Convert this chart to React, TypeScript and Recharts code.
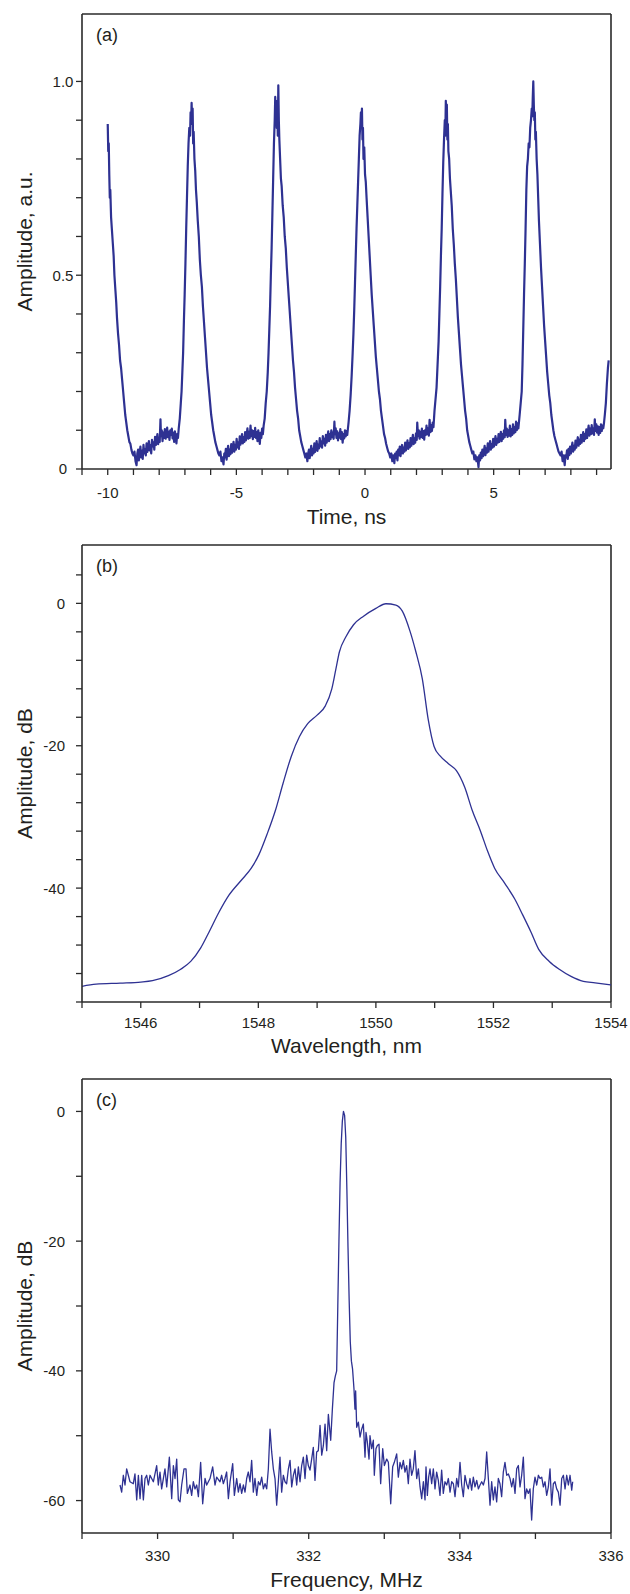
import React from 'react';
import { LineChart, Line, XAxis, YAxis, ReferenceLine } from 'recharts';

const FONT = '"Liberation Sans", Arial, Helvetica, sans-serif';
const INK = '#231f20';
const FRAME = '#2a2a2a';
const TRACE = '#2e3192';

// ---------- (a) pulse train: [time ns, amplitude a.u.] ----------
const pulseTrace: [number, number][] = [
  [-10.0,0.89],[-9.98,0.82],[-9.96,0.84],[-9.94,0.76],[-9.92,0.70],[-9.9,0.72],[-9.87,0.65],[-9.84,0.62],[-9.8,0.58],[-9.77,0.55],[-9.74,0.50],[-9.7,0.46],[-9.67,0.43],[-9.64,0.39],[-9.6,0.35],[-9.56,0.32],[-9.52,0.28],[-9.48,0.26],[-9.44,0.23],[-9.4,0.20],[-9.36,0.17],[-9.32,0.14],[-9.28,0.12],[-9.24,0.10],[-9.2,0.085],[-9.16,0.07],[-9.12,0.065],[-9.08,0.05],[-9.04,0.04],[-9.0,0.035],[-8.96,0.045],[-8.92,0.02],[-8.88,0.01],[-8.85,0.04],
  [-8.82,0.05],[-8.79,0.022],[-8.76,0.041],[-8.73,0.058],[-8.7,0.03],[-8.67,0.047],[-8.64,0.026],[-8.61,0.062],[-8.58,0.04],[-8.55,0.051],[-8.52,0.035],[-8.49,0.066],[-8.46,0.044],[-8.43,0.057],[-8.4,0.072],[-8.37,0.048],[-8.34,0.061],[-8.31,0.04],[-8.28,0.075],[-8.25,0.058],[-8.22,0.069],[-8.19,0.05],[-8.16,0.083],[-8.13,0.062],[-8.1,0.074],[-8.07,0.09],[-8.04,0.064],[-8.01,0.081],[-7.98,0.07],[-7.95,0.128],[-7.93,0.085],[-7.9,0.1],[-7.87,0.072],[-7.84,0.094],[-7.81,0.08],[-7.78,0.103],[-7.75,0.078],[-7.72,0.09],[-7.69,0.107],[-7.66,0.082],[-7.63,0.096],[-7.6,0.075],[-7.57,0.1],[-7.54,0.088],[-7.51,0.104],[-7.48,0.079],[-7.45,0.093],[-7.42,0.07],[-7.39,0.097],[-7.36,0.085],[-7.33,0.066],[-7.3,0.09],[-7.27,0.08],[-7.24,0.105],
  [-7.2,0.13],[-7.16,0.17],[-7.13,0.2],[-7.1,0.25],[-7.07,0.3],[-7.04,0.38],[-7.01,0.45],[-6.98,0.53],[-6.95,0.62],[-6.92,0.7],[-6.89,0.78],[-6.86,0.84],[-6.83,0.88],[-6.8,0.86],[-6.78,0.92],[-6.76,0.89],[-6.74,0.945],[-6.72,0.9],[-6.7,0.93],[-6.68,0.84],[-6.66,0.87],[-6.63,0.8],[-6.6,0.77],[-6.57,0.72],[-6.54,0.69],[-6.5,0.64],[-6.46,0.6],[-6.42,0.54],[-6.38,0.5],[-6.34,0.47],[-6.3,0.42],[-6.26,0.38],[-6.22,0.34],[-6.18,0.3],[-6.14,0.26],[-6.1,0.23],[-6.06,0.2],[-6.02,0.17],[-5.98,0.14],[-5.94,0.12],[-5.9,0.1],[-5.86,0.085],[-5.82,0.07],[-5.78,0.06],[-5.74,0.05],[-5.7,0.04],[-5.66,0.035],[-5.62,0.045],[-5.58,0.02],[-5.54,0.03],[-5.5,0.012],[-5.47,0.04],
  [-5.44,0.03],[-5.41,0.052],[-5.38,0.024],[-5.35,0.045],[-5.32,0.06],[-5.29,0.033],[-5.26,0.05],[-5.23,0.038],[-5.2,0.064],[-5.17,0.042],[-5.14,0.055],[-5.11,0.07],[-5.08,0.045],[-5.05,0.062],[-5.02,0.05],[-4.99,0.078],[-4.96,0.056],[-4.93,0.069],[-4.9,0.052],[-4.87,0.084],[-4.84,0.063],[-4.81,0.075],[-4.78,0.09],[-4.75,0.066],[-4.72,0.082],[-4.69,0.07],[-4.66,0.095],[-4.63,0.074],[-4.6,0.088],[-4.57,0.105],[-4.54,0.078],[-4.51,0.096],[-4.48,0.08],[-4.45,0.112],[-4.42,0.085],[-4.39,0.1],[-4.36,0.077],[-4.33,0.098],[-4.3,0.083],[-4.27,0.106],[-4.24,0.08],[-4.21,0.095],[-4.18,0.072],[-4.15,0.1],[-4.12,0.085],[-4.09,0.065],[-4.06,0.093],[-4.03,0.08],[-4.0,0.104],[-3.97,0.09],[-3.94,0.112],
  [-3.9,0.13],[-3.86,0.17],[-3.82,0.2],[-3.78,0.25],[-3.75,0.3],[-3.72,0.36],[-3.69,0.42],[-3.66,0.5],[-3.63,0.57],[-3.6,0.66],[-3.57,0.75],[-3.54,0.84],[-3.51,0.9],[-3.49,0.96],[-3.47,0.91],[-3.45,0.95],[-3.43,0.88],[-3.41,0.93],[-3.39,0.86],[-3.37,0.99],[-3.35,0.9],[-3.33,0.85],[-3.3,0.8],[-3.27,0.75],[-3.24,0.73],[-3.2,0.68],[-3.16,0.65],[-3.12,0.6],[-3.08,0.57],[-3.04,0.52],[-3.0,0.48],[-2.96,0.44],[-2.92,0.4],[-2.88,0.36],[-2.84,0.32],[-2.8,0.28],[-2.76,0.25],[-2.72,0.21],[-2.68,0.18],[-2.64,0.15],[-2.6,0.13],[-2.56,0.1],[-2.52,0.085],[-2.48,0.07],[-2.44,0.06],[-2.4,0.05],[-2.36,0.04],[-2.32,0.03],[-2.28,0.04],[-2.24,0.02],[-2.21,0.04],
  [-2.18,0.05],[-2.15,0.028],[-2.12,0.045],[-2.09,0.06],[-2.06,0.035],[-2.03,0.052],[-2.0,0.04],[-1.97,0.066],[-1.94,0.044],[-1.91,0.058],[-1.88,0.072],[-1.85,0.047],[-1.82,0.063],[-1.79,0.053],[-1.76,0.08],[-1.73,0.058],[-1.7,0.071],[-1.67,0.055],[-1.64,0.085],[-1.61,0.066],[-1.58,0.078],[-1.55,0.06],[-1.52,0.088],[-1.49,0.068],[-1.46,0.083],[-1.43,0.097],[-1.4,0.072],[-1.37,0.09],[-1.34,0.077],[-1.31,0.1],[-1.28,0.082],[-1.25,0.094],[-1.22,0.078],[-1.19,0.122],[-1.17,0.09],[-1.14,0.105],[-1.11,0.08],[-1.08,0.097],[-1.05,0.074],[-1.02,0.092],[-0.99,0.081],[-0.96,0.103],[-0.93,0.077],[-0.9,0.095],[-0.87,0.068],[-0.84,0.09],[-0.81,0.079],[-0.78,0.1],[-0.75,0.084],[-0.72,0.098],[-0.69,0.088],
  [-0.64,0.12],[-0.6,0.15],[-0.56,0.19],[-0.52,0.24],[-0.48,0.3],[-0.45,0.35],[-0.42,0.41],[-0.39,0.48],[-0.36,0.55],[-0.33,0.62],[-0.3,0.68],[-0.27,0.74],[-0.24,0.8],[-0.21,0.86],[-0.18,0.89],[-0.16,0.92],[-0.14,0.88],[-0.12,0.93],[-0.1,0.85],[-0.08,0.88],[-0.06,0.8],[-0.03,0.83],[0.0,0.76],[0.03,0.74],[0.06,0.7],[0.1,0.65],[0.14,0.6],[0.18,0.55],[0.22,0.5],[0.26,0.45],[0.3,0.41],[0.34,0.37],[0.38,0.33],[0.42,0.29],[0.46,0.26],[0.5,0.23],[0.54,0.2],[0.58,0.18],[0.62,0.15],[0.66,0.13],[0.7,0.11],[0.74,0.09],[0.78,0.08],[0.82,0.065],[0.86,0.055],[0.9,0.045],[0.94,0.04],[0.98,0.03],[1.02,0.04],[1.06,0.02],[1.1,0.035],[1.14,0.015],[1.17,0.04],
  [1.2,0.028],[1.23,0.045],[1.26,0.022],[1.29,0.05],[1.32,0.036],[1.35,0.058],[1.38,0.033],[1.41,0.049],[1.44,0.062],[1.47,0.04],[1.5,0.055],[1.53,0.045],[1.56,0.068],[1.59,0.048],[1.62,0.06],[1.65,0.074],[1.68,0.052],[1.71,0.066],[1.74,0.056],[1.77,0.08],[1.8,0.06],[1.83,0.073],[1.86,0.088],[1.89,0.064],[1.92,0.079],[1.95,0.068],[1.98,0.092],[2.01,0.075],[2.03,0.12],[2.06,0.085],[2.09,0.1],[2.12,0.078],[2.15,0.096],[2.18,0.083],[2.21,0.104],[2.24,0.08],[2.27,0.098],[2.3,0.076],[2.33,0.1],[2.36,0.088],[2.39,0.112],[2.42,0.09],[2.45,0.105],[2.48,0.086],[2.51,0.127],[2.54,0.095],[2.57,0.113],[2.6,0.098],[2.63,0.12],[2.66,0.108],
  [2.7,0.15],[2.74,0.18],[2.78,0.21],[2.82,0.27],[2.86,0.33],[2.89,0.4],[2.92,0.47],[2.95,0.55],[2.98,0.62],[3.01,0.71],[3.04,0.79],[3.07,0.85],[3.1,0.9],[3.12,0.86],[3.14,0.95],[3.16,0.9],[3.18,0.94],[3.2,0.85],[3.22,0.89],[3.24,0.82],[3.27,0.8],[3.3,0.75],[3.33,0.72],[3.37,0.68],[3.41,0.62],[3.45,0.58],[3.49,0.53],[3.53,0.49],[3.57,0.44],[3.61,0.39],[3.65,0.35],[3.69,0.31],[3.73,0.27],[3.77,0.24],[3.81,0.21],[3.85,0.18],[3.89,0.15],[3.93,0.13],[3.97,0.1],[4.01,0.085],[4.05,0.07],[4.09,0.06],[4.13,0.05],[4.17,0.04],[4.21,0.045],[4.25,0.025],[4.29,0.035],[4.33,0.02],[4.37,0.03],[4.41,0.005],[4.44,0.035],
  [4.47,0.022],[4.5,0.042],[4.53,0.028],[4.56,0.05],[4.59,0.033],[4.62,0.046],[4.65,0.06],[4.68,0.036],[4.71,0.053],[4.74,0.042],[4.77,0.066],[4.8,0.045],[4.83,0.058],[4.86,0.072],[4.89,0.05],[4.92,0.064],[4.95,0.055],[4.98,0.078],[5.01,0.058],[5.04,0.07],[5.07,0.085],[5.1,0.062],[5.13,0.078],[5.16,0.068],[5.19,0.09],[5.22,0.07],[5.25,0.084],[5.28,0.096],[5.31,0.072],[5.34,0.09],[5.37,0.078],[5.4,0.1],[5.43,0.082],[5.45,0.127],[5.48,0.088],[5.51,0.104],[5.54,0.083],[5.57,0.1],[5.6,0.086],[5.63,0.112],[5.66,0.084],[5.69,0.102],[5.72,0.088],[5.75,0.115],[5.78,0.092],[5.81,0.108],[5.84,0.095],[5.87,0.122],[5.9,0.1],[5.93,0.118],[5.96,0.105],
  [6.01,0.14],[6.05,0.17],[6.09,0.2],[6.12,0.27],[6.15,0.36],[6.18,0.45],[6.21,0.53],[6.24,0.62],[6.27,0.72],[6.3,0.78],[6.33,0.8],[6.36,0.84],[6.39,0.83],[6.42,0.88],[6.45,0.9],[6.48,0.93],[6.5,0.91],[6.52,0.96],[6.54,1.0],[6.56,0.94],[6.58,0.9],[6.6,0.92],[6.62,0.85],[6.64,0.87],[6.67,0.8],[6.7,0.76],[6.73,0.7],[6.76,0.64],[6.8,0.58],[6.84,0.52],[6.88,0.47],[6.92,0.42],[6.96,0.37],[7.0,0.33],[7.04,0.29],[7.08,0.25],[7.12,0.22],[7.16,0.19],[7.2,0.17],[7.24,0.14],[7.28,0.12],[7.32,0.1],[7.36,0.085],[7.4,0.075],[7.44,0.065],[7.48,0.055],[7.52,0.045],[7.56,0.04],[7.6,0.035],[7.64,0.045],[7.68,0.02],[7.72,0.035],[7.76,0.01],[7.79,0.035],
  [7.82,0.03],[7.85,0.048],[7.88,0.026],[7.91,0.052],[7.94,0.036],[7.97,0.058],[8.0,0.04],[8.03,0.055],[8.06,0.068],[8.09,0.045],[8.12,0.06],[8.15,0.05],[8.18,0.073],[8.21,0.055],[8.24,0.068],[8.27,0.082],[8.3,0.06],[8.33,0.076],[8.36,0.065],[8.39,0.088],[8.42,0.068],[8.45,0.08],[8.48,0.095],[8.51,0.072],[8.54,0.09],[8.57,0.078],[8.6,0.102],[8.63,0.08],[8.66,0.095],[8.69,0.112],[8.72,0.086],[8.75,0.104],[8.78,0.09],[8.81,0.113],[8.84,0.092],[8.87,0.105],[8.9,0.088],[8.93,0.128],[8.96,0.098],[8.99,0.115],[9.02,0.094],[9.05,0.11],[9.08,0.088],[9.11,0.108],[9.14,0.093],[9.17,0.115],[9.2,0.098],[9.23,0.112],[9.26,0.105],[9.29,0.12],
  [9.32,0.14],[9.36,0.17],[9.4,0.22],[9.44,0.26],[9.47,0.28],
];

// ---------- (b) optical spectrum: [wavelength nm, dB] ----------
const opticalSpectrum: [number, number][] = [
  [1545.0,-53.8],[1545.24,-53.5],[1545.65,-53.35],[1546.0,-53.2],[1546.2,-53.0],[1546.47,-52.3],[1546.68,-51.4],[1546.85,-50.3],[1547.02,-48.4],[1547.16,-46.2],[1547.33,-43.4],[1547.5,-41.0],[1547.71,-38.9],[1547.88,-37.2],[1548.01,-35.3],[1548.15,-32.4],[1548.29,-29.1],[1548.42,-25.3],[1548.56,-21.5],[1548.7,-18.7],[1548.84,-16.9],[1549.0,-15.7],[1549.14,-14.4],[1549.25,-12.0],[1549.32,-9.2],[1549.38,-6.8],[1549.49,-4.7],[1549.62,-3.0],[1549.79,-1.8],[1550.0,-0.7],[1550.17,-0.05],[1550.34,-0.24],[1550.45,-1.1],[1550.58,-3.9],[1550.68,-6.8],[1550.79,-10.6],[1550.89,-16.3],[1550.99,-20.1],[1551.1,-21.5],[1551.23,-22.5],[1551.37,-23.5],[1551.51,-25.8],[1551.64,-29.1],[1551.78,-32.0],[1551.9,-34.8],[1552.02,-37.2],[1552.19,-39.3],[1552.36,-41.5],[1552.5,-43.8],[1552.64,-46.2],[1552.77,-48.6],[1552.95,-50.3],[1553.12,-51.4],[1553.32,-52.4],[1553.53,-53.1],[1553.73,-53.3],[1554.0,-53.6],
];

// ---------- (c) RF spectrum: [frequency MHz, dB] ----------
const rfSpectrum: [number, number][] = [
  [329.503,-57.6],[329.525,-58.7],[329.547,-56.1],[329.569,-57.6],[329.591,-55.1],[329.613,-56.1],[329.635,-57.1],[329.679,-57.4],[329.701,-55.9],[329.724,-59.9],[329.746,-56.1],[329.768,-59.7],[329.79,-56.1],[329.812,-59.9],[329.834,-56.6],[329.856,-56.1],[329.878,-57.6],[329.9,-56.1],[329.944,-57.1],[329.988,-54.6],
  [330.01,-57.6],[330.032,-55.6],[330.054,-58.2],[330.098,-55.1],[330.121,-57.9],[330.156,-53.3],[330.187,-59.7],[330.209,-54.6],[330.231,-56.6],[330.253,-53.6],[330.275,-59.9],[330.297,-60.2],[330.319,-57.6],[330.35,-55.1],[330.376,-55.1],[330.394,-58.9],[330.429,-57.6],[330.451,-59.2],[330.473,-57.1],[330.495,-58.2],[330.518,-57.6],[330.54,-59.4],[330.57,-54.1],[330.597,-60.5],[330.628,-56.6],[330.65,-57.6],[330.672,-57.1],[330.694,-56.6],[330.729,-54.8],[330.76,-57.6],[330.782,-56.4],[330.826,-57.1],[330.848,-56.1],[330.87,-57.4],[330.892,-56.6],[330.914,-55.6],[330.937,-59.7],[330.959,-57.1],[330.994,-54.3],
  [331.016,-59.2],[331.047,-56.6],[331.069,-58.7],[331.091,-57.4],[331.113,-58.9],[331.135,-57.6],[331.157,-58.7],[331.179,-56.6],[331.201,-55.6],[331.223,-57.1],[331.245,-53.8],[331.267,-58.7],[331.289,-56.6],[331.312,-59.2],[331.334,-57.1],[331.356,-57.6],[331.378,-56.4],[331.4,-58.2],[331.422,-57.4],[331.444,-58.2],[331.466,-55.1],[331.488,-49.0],[331.51,-52.5],[331.532,-55.1],[331.554,-56.6],[331.576,-60.7],[331.598,-57.1],[331.62,-53.3],[331.642,-58.7],[331.664,-56.1],[331.686,-57.1],[331.708,-57.4],[331.731,-55.1],[331.753,-53.8],[331.775,-57.9],[331.797,-56.1],[331.819,-55.1],[331.841,-57.6],[331.863,-54.8],[331.885,-57.1],[331.907,-54.6],[331.929,-53.3],[331.951,-56.6],[331.973,-53.0],[331.995,-54.6],
  [332.017,-55.3],[332.039,-53.6],[332.061,-51.8],[332.083,-56.9],[332.105,-52.5],[332.127,-52.3],[332.15,-48.4],[332.172,-53.0],[332.194,-51.5],[332.216,-48.2],[332.238,-52.3],[332.26,-46.7],[332.291,-50.7],[332.313,-45.9],[332.335,-41.8],[332.352,-40.8],[332.37,-40.0],
  [332.385,-30.0],[332.4,-20.0],[332.415,-11.0],[332.43,-5.0],[332.445,-1.5],[332.46,0.0],[332.475,-0.6],[332.49,-4.0],[332.505,-12.0],[332.52,-21.0],[332.535,-29.0],[332.55,-35.5],[332.565,-38.5],[332.58,-39.7],
  [332.599,-42.8],[332.612,-45.9],[332.621,-43.1],[332.635,-48.7],[332.657,-47.9],[332.679,-50.2],[332.701,-49.0],[332.723,-48.2],[332.745,-53.3],[332.758,-49.5],[332.776,-51.0],[332.798,-53.6],[332.811,-50.0],[332.833,-52.0],[332.855,-50.7],[332.868,-56.1],[332.89,-52.0],[332.908,-51.5],[332.93,-51.3],[332.952,-57.4],[332.979,-52.0],
  [333.001,-54.6],[333.032,-53.6],[333.054,-54.1],[333.085,-60.5],[333.111,-54.8],[333.133,-54.1],[333.164,-52.8],[333.186,-56.4],[333.208,-54.1],[333.23,-55.1],[333.252,-53.8],[333.274,-55.6],[333.296,-54.6],[333.318,-57.4],[333.34,-53.6],[333.362,-56.1],[333.384,-55.1],[333.406,-52.3],[333.429,-56.6],[333.451,-55.1],[333.473,-57.9],[333.495,-59.7],[333.517,-57.1],[333.539,-59.9],[333.552,-54.8],[333.57,-59.2],[333.587,-56.4],[333.605,-55.1],[333.627,-57.4],[333.649,-55.1],[333.671,-58.2],[333.693,-55.6],[333.715,-56.9],[333.737,-59.2],[333.759,-55.3],[333.781,-58.9],[333.803,-57.1],[333.826,-57.6],[333.848,-56.6],[333.87,-58.7],[333.892,-57.1],[333.914,-57.4],[333.936,-59.4],[333.958,-56.6],[333.98,-57.9],
  [334.002,-54.1],[334.024,-57.6],[334.046,-59.4],[334.068,-56.1],[334.09,-57.4],[334.112,-58.2],[334.134,-56.6],[334.156,-58.4],[334.178,-56.4],[334.2,-57.9],[334.223,-56.9],[334.245,-58.2],[334.267,-57.6],[334.289,-57.1],[334.311,-57.6],[334.333,-56.6],[334.355,-52.5],[334.377,-56.6],[334.399,-60.7],[334.421,-57.1],[334.443,-59.9],[334.465,-57.9],[334.487,-60.2],[334.509,-56.6],[334.531,-57.4],[334.553,-59.4],[334.575,-55.6],[334.597,-54.1],[334.62,-56.1],[334.642,-55.9],[334.664,-56.6],[334.686,-57.9],[334.708,-56.6],[334.73,-58.9],[334.752,-55.1],[334.774,-54.6],[334.796,-57.9],[334.818,-56.1],[334.84,-53.3],[334.862,-59.7],[334.884,-58.2],[334.906,-58.9],[334.928,-58.2],[334.95,-63.0],[334.972,-58.2],[334.994,-56.4],
  [335.017,-57.6],[335.039,-56.1],[335.061,-56.6],[335.083,-56.4],[335.105,-57.9],[335.127,-57.1],[335.149,-59.2],[335.171,-57.9],[335.193,-55.1],[335.215,-60.7],[335.237,-57.4],[335.259,-57.1],[335.281,-58.2],[335.303,-58.7],[335.326,-60.7],[335.348,-56.6],[335.37,-56.1],[335.392,-58.2],[335.414,-56.1],[335.436,-57.6],[335.458,-56.1],[335.48,-58.4],[335.493,-57.1],
];

// ---------- ticks ----------
const timeTicks = [-11,-10,-9,-8,-7,-6,-5,-4,-3,-2,-1,0,1,2,3,4,5,6,7,8,9];
const timeTickLabels: [number, string][] = [[-10,'-10'],[-5,'-5'],[0,'0'],[5,'5']];
const amplitudeTicks = [0,0.1,0.2,0.3,0.4,0.5,0.6,0.7,0.8,0.9,1.0];
const amplitudeTickLabels: [number, string][] = [[0,'0'],[0.5,'0.5'],[1,'1.0']];

const wavelengthTicks = [1545,1546,1547,1548,1549,1550,1551,1552,1553,1554];
const wavelengthTickLabels: [number, string][] = [[1546,'1546'],[1548,'1548'],[1550,'1550'],[1552,'1552'],[1554,'1554']];
const opticalDbTicks = [-56,-52,-48,-44,-40,-36,-32,-28,-24,-20,-16,-12,-8,-4,0,4];
const opticalDbTickLabels: [number, string][] = [[0,'0'],[-20,'-20'],[-40,'-40']];

const frequencyTicks = [329,330,331,332,333,334,335,336];
const frequencyTickLabels: [number, string][] = [[330,'330'],[332,'332'],[334,'334'],[336,'336']];
const rfDbTicks = [-60,-50,-40,-30,-20,-10,0];
const rfDbTickLabels: [number, string][] = [[0,'0'],[-20,'-20'],[-40,'-40'],[-60,'-60']];

const findLabel = (labels: [number, string][], v: number) => {
  const hit = labels.find(([k]) => Math.abs(k - v) < 1e-6);
  return hit ? hit[1] : undefined;
};

function BottomTick(props: any) {
  const { x, y, payload, labels } = props;
  const text = findLabel(labels, payload?.value);
  if (text === undefined) return <g />;
  return (
    <text x={x} y={y} dy="0.71em" textAnchor="middle" fontSize={15} fontFamily={FONT} fill={INK}>
      {text}
    </text>
  );
}

function LeftTick(props: any) {
  const { x, y, payload, labels, centerX } = props;
  const text = findLabel(labels, payload?.value);
  if (text === undefined) return <g />;
  const centered = typeof centerX === 'number';
  return (
    <text x={centered ? centerX : x} y={y} dy="0.36em" textAnchor={centered ? 'middle' : 'end'} fontSize={15} fontFamily={FONT} fill={INK}>
      {text}
    </text>
  );
}

const PLOT_LEFT = 82;
const PLOT_RIGHT = 611;
const WIDTH = 630;

type PanelProps = {
  data: { x: number; y: number }[];
  height: number;
  marginTop: number;
  xAxisHeight: number;
  xDomain: [number, number];
  yDomain: [number, number];
  xTicks: number[];
  xLabels: [number, string][];
  yTicks: number[];
  yLabels: [number, string][];
  xTickMargin: number;
  xTitle: string;
  xTitleGap: number;
  yTitle: string;
  tag: string;
  strokeWidth: number;
  curve: 'linear' | 'monotone';
  yCenterX?: number;
};

function Panel(p: PanelProps) {
  const plotTop = p.marginTop;
  const plotBottom = p.height - p.xAxisHeight;
  const midX = (PLOT_LEFT + PLOT_RIGHT) / 2;
  const midY = (plotTop + plotBottom) / 2;
  const textStyle = { fontFamily: FONT, fill: INK } as const;
  return (
    <LineChart
      width={WIDTH}
      height={p.height}
      data={p.data}
      margin={{ top: p.marginTop, right: WIDTH - PLOT_RIGHT, bottom: 0, left: 0 }}
    >
      <XAxis
        type="number"
        dataKey="x"
        domain={p.xDomain}
        ticks={p.xTicks}
        interval={0}
        allowDataOverflow
        height={p.xAxisHeight}
        tickSize={6}
        tickMargin={p.xTickMargin}
        axisLine={{ stroke: FRAME, strokeWidth: 1.6 }}
        tickLine={{ stroke: FRAME, strokeWidth: 1.3 }}
        tick={<BottomTick labels={p.xLabels} />}
        label={() => (
          <text x={midX} y={plotBottom + p.xTitleGap} dy="0.71em" textAnchor="middle" fontSize={21} {...textStyle}>
            {p.xTitle}
          </text>
        )}
      />
      <YAxis
        type="number"
        domain={p.yDomain}
        ticks={p.yTicks}
        interval={0}
        allowDataOverflow
        width={PLOT_LEFT}
        tickSize={6}
        tickMargin={11}
        axisLine={{ stroke: FRAME, strokeWidth: 1.6 }}
        tickLine={{ stroke: FRAME, strokeWidth: 1.3 }}
        tick={<LeftTick labels={p.yLabels} centerX={p.yCenterX} />}
        label={() => (
          <text
            x={24}
            y={midY}
            transform={`rotate(-90 24 ${midY})`}
            textAnchor="middle"
            dominantBaseline="central"
            fontSize={21}
            {...textStyle}
          >
            {p.yTitle}
          </text>
        )}
      />
      <ReferenceLine
        y={p.yDomain[1]}
        stroke={FRAME}
        strokeWidth={1.6}
        label={() => (
          <text x={PLOT_LEFT + 14} y={plotTop + 14} dy="0.71em" fontSize={18} {...textStyle}>
            {p.tag}
          </text>
        )}
      />
      <ReferenceLine x={p.xDomain[1]} stroke={FRAME} strokeWidth={1.6} />
      <Line
        type={p.curve}
        dataKey="y"
        stroke={TRACE}
        strokeWidth={p.strokeWidth}
        strokeLinejoin="round"
        dot={false}
        activeDot={false}
        isAnimationActive={false}
      />
    </LineChart>
  );
}

const toPoints = (pairs: [number, number][]) => pairs.map(([x, y]) => ({ x, y }));

export default function App() {
  return (
    <div style={{ width: WIDTH, height: 1594, background: '#fff' }}>
      <style>{'body{margin:0;background:#fff}'}</style>
      <Panel
        data={toPoints(pulseTrace)}
        height={530}
        marginTop={14}
        xAxisHeight={61}
        xDomain={[-11, 9.56]}
        yDomain={[0, 1.174]}
        xTicks={timeTicks}
        xLabels={timeTickLabels}
        yTicks={amplitudeTicks}
        yLabels={amplitudeTickLabels}
        xTickMargin={12}
        xTitle="Time, ns"
        xTitleGap={40}
        yTitle="Amplitude, a.u."
        tag="(a)"
        strokeWidth={2.2}
        curve="linear"
        yCenterX={63}
      />
      <Panel
        data={toPoints(opticalSpectrum)}
        height={530}
        marginTop={15}
        xAxisHeight={58}
        xDomain={[1545, 1554]}
        yDomain={[-56, 8.2]}
        xTicks={wavelengthTicks}
        xLabels={wavelengthTickLabels}
        yTicks={opticalDbTicks}
        yLabels={opticalDbTickLabels}
        xTickMargin={9}
        xTitle="Wavelength, nm"
        xTitleGap={36}
        yTitle="Amplitude, dB"
        tag="(b)"
        strokeWidth={1.3}
        curve="monotone"
      />
      <Panel
        data={toPoints(rfSpectrum)}
        height={534}
        marginTop={19}
        xAxisHeight={61}
        xDomain={[329, 336]}
        yDomain={[-65, 5]}
        xTicks={frequencyTicks}
        xLabels={frequencyTickLabels}
        yTicks={rfDbTicks}
        yLabels={rfDbTickLabels}
        xTickMargin={11}
        xTitle="Frequency, MHz"
        xTitleGap={39}
        yTitle="Amplitude, dB"
        tag="(c)"
        strokeWidth={1.3}
        curve="linear"
      />
    </div>
  );
}
